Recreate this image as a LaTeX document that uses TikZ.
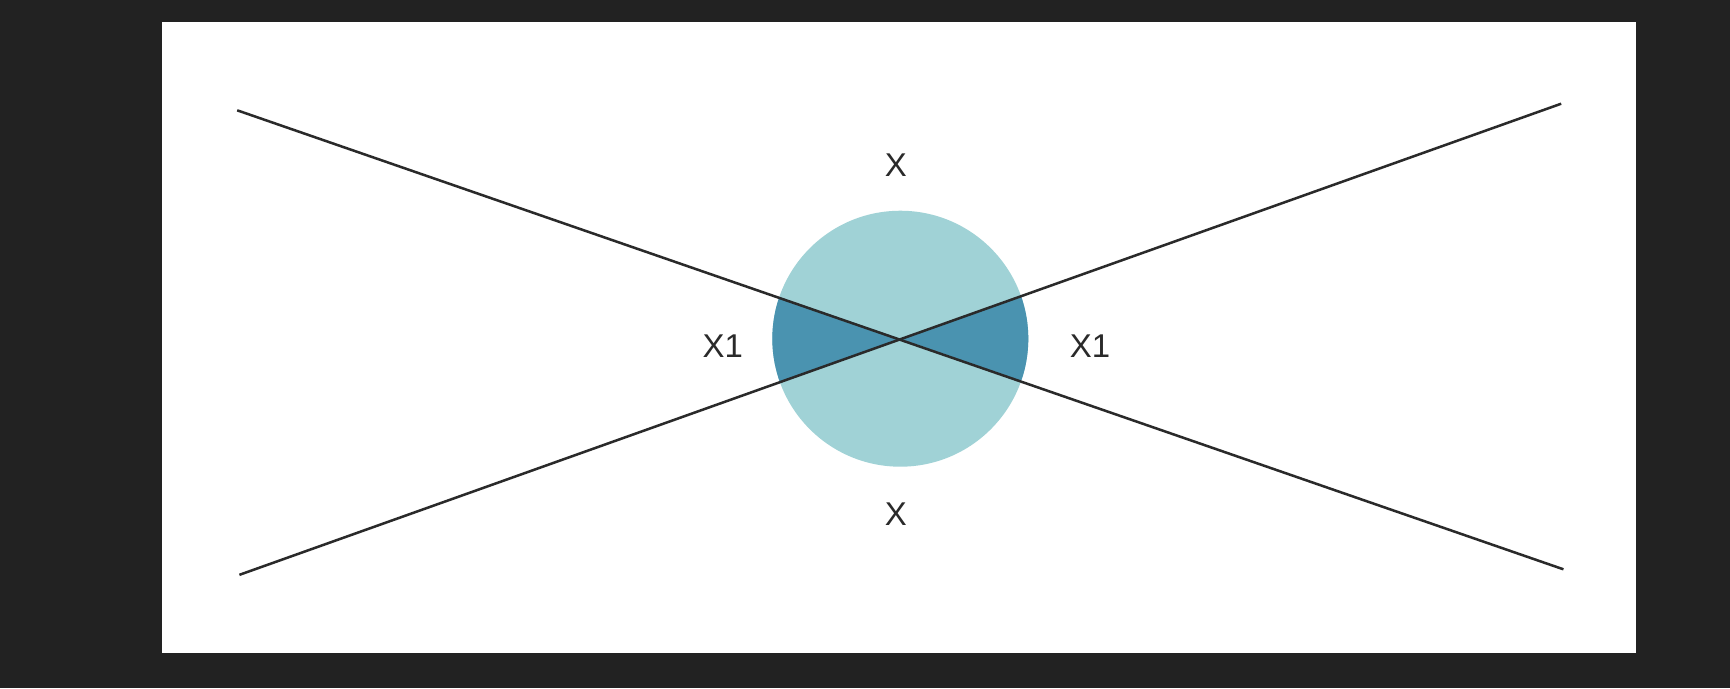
\documentclass[tikz,border=0pt]{standalone}
\usepackage{fontspec}
\setmainfont{Liberation Sans}
\definecolor{bgdark}{HTML}{222222}
\definecolor{lightc}{HTML}{A0D2D6}
\definecolor{darkc}{HTML}{4A93B0}
\definecolor{linec}{HTML}{2A2A2A}
\tikzset{lbl/.style={font=\fontsize{17}{20}\selectfont, text=linec}, ln/.style={draw=linec, line width=1.3pt}}
\begin{document}
\begin{tikzpicture}[x=0.02cm,y=-0.02cm]
\fill[bgdark] (0,0) rectangle (1568,624);
\useasboundingbox (0,0) rectangle (1568,624);
\fill[white] (147,20) rectangle (1483,592);
\coordinate (c) at (816,307);
\coordinate (a1) at (215,100);
\coordinate (a2) at (1417,516);
\coordinate (b1) at (217,521);
\coordinate (b2) at (1415,94);
\fill[lightc] (c) circle (116);
\begin{scope}
\clip (c) circle (116);
\fill[darkc] (c) -- (a1) -- (b1) -- cycle;
\fill[darkc] (c) -- (a2) -- (b2) -- cycle;
\end{scope}
\draw[ln] (a1) -- (a2);
\draw[ln] (b1) -- (b2);
\node[lbl] (t) at (812,150) {X};
\node[lbl] (bt) at (812,466) {X};
\node[lbl] (l) at (655,314) {X1};
\node[lbl] (r) at (988,314) {X1};
\end{tikzpicture}
\end{document}
